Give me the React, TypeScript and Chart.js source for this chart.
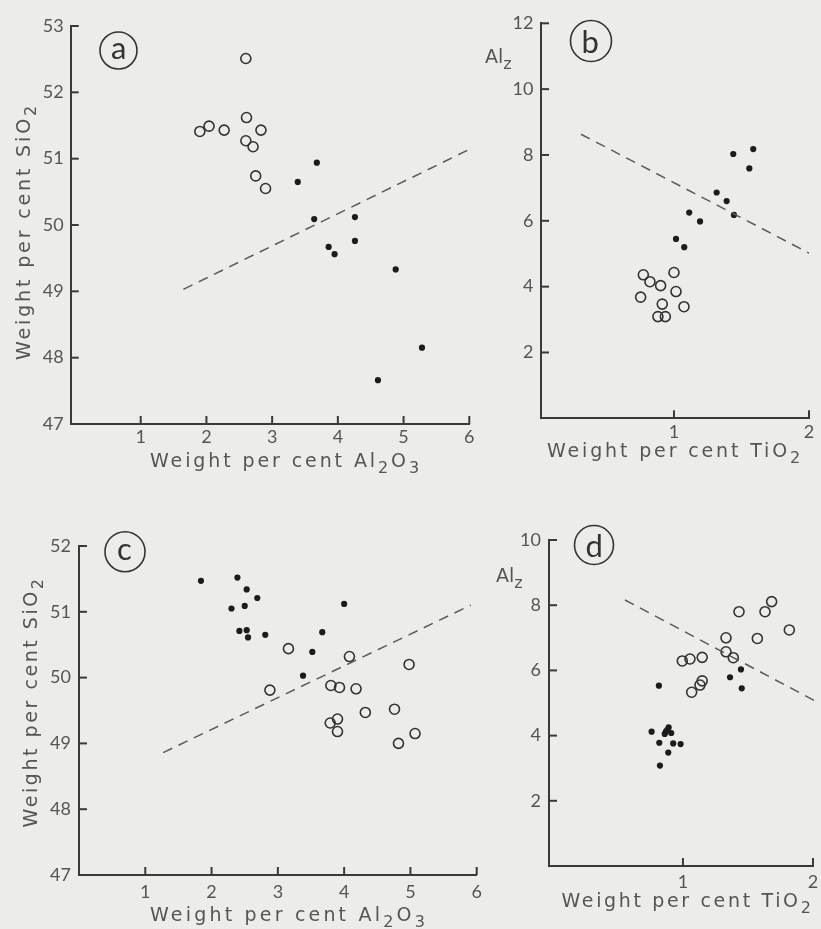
import React, { useEffect, useRef } from "react";
import { Chart, registerables } from "chart.js";

Chart.register(...registerables);

const W = 821;
const H = 929;
const CW = 860; // canvas width (extra room on the right, hidden by the page box)

// ---------- Panel a : SiO2 vs Al2O3 ----------
const aOpenX = [2.6, 1.9, 2.04, 2.27, 2.61, 2.6, 2.71, 2.83, 2.75, 2.9];
const aOpenY = [52.51, 51.41, 51.49, 51.43, 51.62, 51.27, 51.18, 51.43, 50.74, 50.55];
const aFillX = [3.68, 3.39, 3.64, 3.86, 3.95, 4.26, 4.26, 4.88, 4.61, 5.28];
const aFillY = [50.94, 50.65, 50.09, 49.67, 49.56, 50.12, 49.76, 49.33, 47.66, 48.15];
const aLineX = [1.65, 6.0];
const aLineY = [49.03, 51.14];
const aXTicks = [1, 2, 3, 4, 5, 6];
const aYTicks = [47, 48, 49, 50, 51, 52, 53];
const aXRange = [-0.065, 6];
const aYRange = [47, 53];

// ---------- Panel b : Alz vs TiO2 ----------
const bOpenX = [0.773, 0.822, 0.901, 1.0, 0.753, 1.015, 0.913, 1.074, 0.881, 0.936];
const bOpenY = [4.36, 4.15, 4.03, 4.43, 3.68, 3.85, 3.47, 3.39, 3.09, 3.09];
const bFillX = [1.439, 1.587, 1.558, 1.316, 1.39, 1.444, 1.113, 1.193, 1.015, 1.076];
const bFillY = [8.03, 8.18, 7.59, 6.86, 6.6, 6.18, 6.25, 5.98, 5.45, 5.2];
const bLineX = [0.311, 2.0];
const bLineY = [8.63, 5.02];
const bXTicks = [1, 2];
const bYTicks = [2, 4, 6, 8, 10, 12];
const bXRange = [0.015, 2];
const bYRange = [0, 12];

// ---------- Panel c : SiO2 vs Al2O3 ----------
const cFillX = [1.84, 2.39, 2.53, 2.3, 2.5, 2.69, 2.42, 2.53, 2.55, 2.81, 4.0, 3.67, 3.52, 3.38];
const cFillY = [51.47, 51.52, 51.34, 51.05, 51.09, 51.21, 50.71, 50.72, 50.61, 50.65, 51.12, 50.69, 50.39, 50.03];
const cOpenX = [3.16, 2.88, 4.08, 4.98, 3.8, 3.93, 4.18, 4.32, 4.76, 3.79, 3.9, 3.9, 4.82, 5.07];
const cOpenY = [50.44, 49.81, 50.32, 50.2, 49.88, 49.85, 49.83, 49.47, 49.52, 49.31, 49.37, 49.18, 49.0, 49.15];
const cLineX = [1.27, 5.91];
const cLineY = [48.86, 51.1];
const cXTicks = [1, 2, 3, 4, 5, 6];
const cYTicks = [47, 48, 49, 50, 51, 52];
const cXRange = [0, 6];
const cYRange = [47, 52];

// ---------- Panel d : Alz vs TiO2 ----------
const dOpenX = [1.431, 1.631, 1.682, 1.818, 1.331, 1.572, 1.331, 1.387, 0.995, 1.054, 1.148, 1.148, 1.131, 1.067];
const dOpenY = [7.8, 7.8, 8.11, 7.24, 7.0, 6.98, 6.57, 6.39, 6.29, 6.35, 6.4, 5.68, 5.55, 5.33];
const dFillX = [0.815, 1.446, 1.362, 1.452, 0.759, 0.818, 0.925, 0.982, 0.887, 0.823, 0.87, 0.89, 0.86, 0.91, 0.88];
const dFillY = [5.53, 6.03, 5.79, 5.45, 4.12, 3.78, 3.76, 3.74, 3.48, 3.08, 4.13, 4.25, 4.05, 4.08, 4.18];
const dLineX = [0.554, 2.05];
const dLineY = [8.16, 4.99];
const dXTicks = [1, 2];
const dYTicks = [2, 4, 6, 8, 10];
const dXRange = [-0.03, 2];
const dYRange = [0, 10];

// ---------- Text ----------
type Part = { t: string; sub?: boolean };
const titleAl2O3: Part[] = [{ t: "Weight per cent Al" }, { t: "2", sub: true }, { t: "O" }, { t: "3", sub: true }];
const titleTiO2: Part[] = [{ t: "Weight per cent TiO" }, { t: "2", sub: true }];
const titleSiO2: Part[] = [{ t: "Weight per cent SiO" }, { t: "2", sub: true }];
const titleAlz: Part[] = [{ t: "Al" }, { t: "z", sub: true }];
const panelLetters = ["a", "b", "c", "d"];

// ---------- Styles ----------
const BG = "#ececea";
const AXIS = "#3a3a3a";
const INK = "#333333";
const DOT = "#1c1c1c";
const DASH = "#5a5a5a";
const TXT = "#555555";
const FAMILY = "Lato, 'Open Sans', sans-serif";
const TITLE_FAMILY = "'DejaVu Sans', Lato, sans-serif";
const YW = 45;
const XH = 28;
const TICK_IN = 8;

type PanelDef = {
  area: { l: number; r: number; t: number; b: number };
  xRange: number[];
  yRange: number[];
  xTicks: number[];
  yTicks: number[];
  open: [number[], number[]];
  fill: [number[], number[]];
  line: [number[], number[]];
  xPad: number;
  yPad: number;
  xTitle: Part[];
  xTitlePos: { cx: number; base: number; w: number };
  yTitle?: Part[];
  yTitlePos?: { base: number; cy: number; w: number };
  alzPos?: { x: number; base: number };
  letter: string;
  circle: { cx: number; cy: number; r: number };
};

const panels: PanelDef[] = [
  {
    area: { l: 70.7, r: 469.3, t: 26, b: 424 },
    xRange: aXRange, yRange: aYRange, xTicks: aXTicks, yTicks: aYTicks,
    open: [aOpenX, aOpenY], fill: [aFillX, aFillY], line: [aLineX, aLineY],
    xPad: 2, yPad: 7,
    xTitle: titleAl2O3, xTitlePos: { cx: 286, base: 467, w: 272 },
    yTitle: titleSiO2, yTitlePos: { base: 30, cy: 231.5, w: 257 },
    letter: panelLetters[0], circle: { cx: 118.5, cy: 50.5, r: 18.5 },
  },
  {
    area: { l: 541, r: 809, t: 23.3, b: 418.3 },
    xRange: bXRange, yRange: bYRange, xTicks: bXTicks, yTicks: bYTicks,
    open: [bOpenX, bOpenY], fill: [bFillX, bFillY], line: [bLineX, bLineY],
    xPad: 3, yPad: 7.5,
    xTitle: titleTiO2, xTitlePos: { cx: 675, base: 457, w: 256 },
    alzPos: { x: 485, base: 63 },
    letter: panelLetters[1], circle: { cx: 591, cy: 41, r: 20.5 },
  },
  {
    area: { l: 79, r: 476.7, t: 546, b: 875 },
    xRange: cXRange, yRange: cYRange, xTicks: cXTicks, yTicks: cYTicks,
    open: [cOpenX, cOpenY], fill: [cFillX, cFillY], line: [cLineX, cLineY],
    xPad: 6, yPad: 8,
    xTitle: titleAl2O3, xTitlePos: { cx: 289, base: 921, w: 278 },
    yTitle: titleSiO2, yTitlePos: { base: 37, cy: 702, w: 251 },
    letter: panelLetters[2], circle: { cx: 125, cy: 551.7, r: 20 },
  },
  {
    area: { l: 549, r: 813, t: 540, b: 866 },
    xRange: dXRange, yRange: dYRange, xTicks: dXTicks, yTicks: dYTicks,
    open: [dOpenX, dOpenY], fill: [dFillX, dFillY], line: [dLineX, dLineY],
    xPad: 5, yPad: 8,
    xTitle: titleTiO2, xTitlePos: { cx: 687.5, base: 907, w: 252 },
    alzPos: { x: 496, base: 582 },
    letter: panelLetters[3], circle: { cx: 594, cy: 545, r: 19.5 },
  },
];

function zip(xs: number[], ys: number[]) {
  return xs.map((x, i) => ({ x, y: ys[i] }));
}

function drawRich(
  ctx: CanvasRenderingContext2D,
  parts: Part[],
  size: number,
  family: string,
  color: string,
  ox: number,
  oy: number,
  target: number | null,
  vertical: boolean,
  align: "center" | "left"
) {
  ctx.save();
  const fMain = `${size}px ${family}`;
  const fSub = `${Math.round(size * 0.82)}px ${family}`;
  const c: any = ctx;
  c.letterSpacing = "0px";
  let nat = 0;
  let n = 0;
  parts.forEach((p) => {
    ctx.font = p.sub ? fSub : fMain;
    nat += ctx.measureText(p.t).width;
    n += p.t.length;
  });
  const ls = target ? (target - nat) / n : 0;
  const total = target ? target : nat;
  ctx.translate(ox, oy);
  if (vertical) ctx.rotate(-Math.PI / 2);
  ctx.fillStyle = color;
  ctx.textBaseline = "alphabetic";
  ctx.textAlign = "left";
  let x = align === "center" ? -total / 2 : 0;
  parts.forEach((p) => {
    ctx.font = p.sub ? fSub : fMain;
    c.letterSpacing = `${ls}px`;
    ctx.fillText(p.t, x, p.sub ? size * 0.32 : 0);
    x += ctx.measureText(p.t).width;
  });
  c.letterSpacing = "0px";
  ctx.restore();
}

function makeDecor(p: PanelDef) {
  return {
    id: "decor",
    afterDraw(chart: any) {
      const ctx: CanvasRenderingContext2D = chart.ctx;
      const area = chart.chartArea;
      const xs = chart.scales.x;
      const ys = chart.scales.y;
      ctx.save();
      // inward tick marks at each labelled value
      ctx.fillStyle = AXIS;
      p.xTicks.forEach((v) => {
        const px = xs.getPixelForValue(v);
        ctx.fillRect(px - 1, area.bottom - TICK_IN, 2, TICK_IN);
      });
      p.yTicks.forEach((v) => {
        const py = ys.getPixelForValue(v);
        ctx.fillRect(area.left, py - 1, TICK_IN, 2);
      });
      ctx.restore();
      // circled panel letter
      ctx.save();
      ctx.lineWidth = 1.6;
      ctx.strokeStyle = INK;
      ctx.beginPath();
      ctx.arc(p.circle.cx, p.circle.cy, p.circle.r, 0, Math.PI * 2);
      ctx.stroke();
      ctx.font = `31px ${FAMILY}`;
      ctx.fillStyle = INK;
      ctx.textAlign = "left";
      ctx.textBaseline = "alphabetic";
      const m = ctx.measureText(p.letter);
      const gw = m.actualBoundingBoxRight + m.actualBoundingBoxLeft;
      const gh = m.actualBoundingBoxAscent + m.actualBoundingBoxDescent;
      ctx.fillText(
        p.letter,
        p.circle.cx - gw / 2 + m.actualBoundingBoxLeft,
        p.circle.cy + gh / 2 - m.actualBoundingBoxDescent
      );
      ctx.restore();
      // axis titles
      drawRich(ctx, p.xTitle, 19, TITLE_FAMILY, TXT, p.xTitlePos.cx, p.xTitlePos.base, p.xTitlePos.w, false, "center");
      if (p.yTitle && p.yTitlePos) {
        drawRich(ctx, p.yTitle, 19, TITLE_FAMILY, TXT, p.yTitlePos.base, p.yTitlePos.cy, p.yTitlePos.w, true, "center");
      }
      if (p.alzPos) {
        drawRich(ctx, titleAlz, 19, TITLE_FAMILY, TXT, p.alzPos.x, p.alzPos.base, null, false, "left");
      }
    },
  };
}

function makeConfig(p: PanelDef): any {
  const tickFont = { family: FAMILY, size: 18 };
  return {
    type: "scatter",
    data: {
      datasets: [
        {
          type: "line",
          data: zip(p.line[0], p.line[1]),
          borderColor: DASH,
          borderWidth: 1.5,
          borderDash: [10, 7],
          pointRadius: 0,
          fill: false,
          clip: false,
        },
        {
          data: zip(p.open[0], p.open[1]),
          pointRadius: 5,
          pointBorderWidth: 1.6,
          pointBorderColor: INK,
          pointBackgroundColor: "rgba(0,0,0,0)",
          showLine: false,
        },
        {
          data: zip(p.fill[0], p.fill[1]),
          pointRadius: 3.1,
          pointBorderWidth: 0,
          pointBackgroundColor: DOT,
          pointBorderColor: DOT,
          showLine: false,
        },
      ],
    },
    options: {
      responsive: false,
      animation: false,
      events: [],
      layout: {
        padding: {
          left: p.area.l - YW,
          right: CW - p.area.r,
          top: p.area.t,
          bottom: H - p.area.b - XH,
        },
      },
      plugins: { legend: { display: false }, tooltip: { enabled: false } },
      scales: {
        x: {
          type: "linear",
          position: "bottom",
          min: p.xRange[0],
          max: p.xRange[1],
          afterBuildTicks: (s: any) => {
            s.ticks = p.xTicks.map((v) => ({ value: v }));
          },
          afterFit: (s: any) => {
            s.height = XH;
          },
          grid: { display: false, drawTicks: false },
          border: { display: true, color: AXIS, width: 2 },
          ticks: { padding: p.xPad, color: TXT, font: tickFont, autoSkip: false, maxRotation: 0 },
        },
        y: {
          type: "linear",
          position: "left",
          min: p.yRange[0],
          max: p.yRange[1],
          afterBuildTicks: (s: any) => {
            s.ticks = p.yTicks.map((v) => ({ value: v }));
          },
          afterFit: (s: any) => {
            s.width = YW;
          },
          grid: { display: false, drawTicks: false },
          border: { display: true, color: AXIS, width: 2 },
          ticks: { padding: p.yPad, color: TXT, font: tickFont, autoSkip: false },
        },
      },
    },
    plugins: [makeDecor(p)],
  };
}

function PanelChart({ p }: { p: PanelDef }) {
  const ref = useRef<HTMLCanvasElement>(null);
  useEffect(() => {
    if (!ref.current) return;
    const chart = new Chart(ref.current, makeConfig(p));
    return () => chart.destroy();
  }, [p]);
  return (
    <canvas
      ref={ref}
      width={CW}
      height={H}
      style={{ position: "absolute", left: 0, top: 0, width: CW, height: H }}
    />
  );
}

export default function App() {
  return (
    <div
      style={{
        position: "absolute",
        left: 0,
        top: 0,
        width: W,
        height: H,
        background: BG,
        overflow: "hidden",
      }}
    >
      {panels.map((p, i) => (
        <PanelChart key={i} p={p} />
      ))}
    </div>
  );
}
